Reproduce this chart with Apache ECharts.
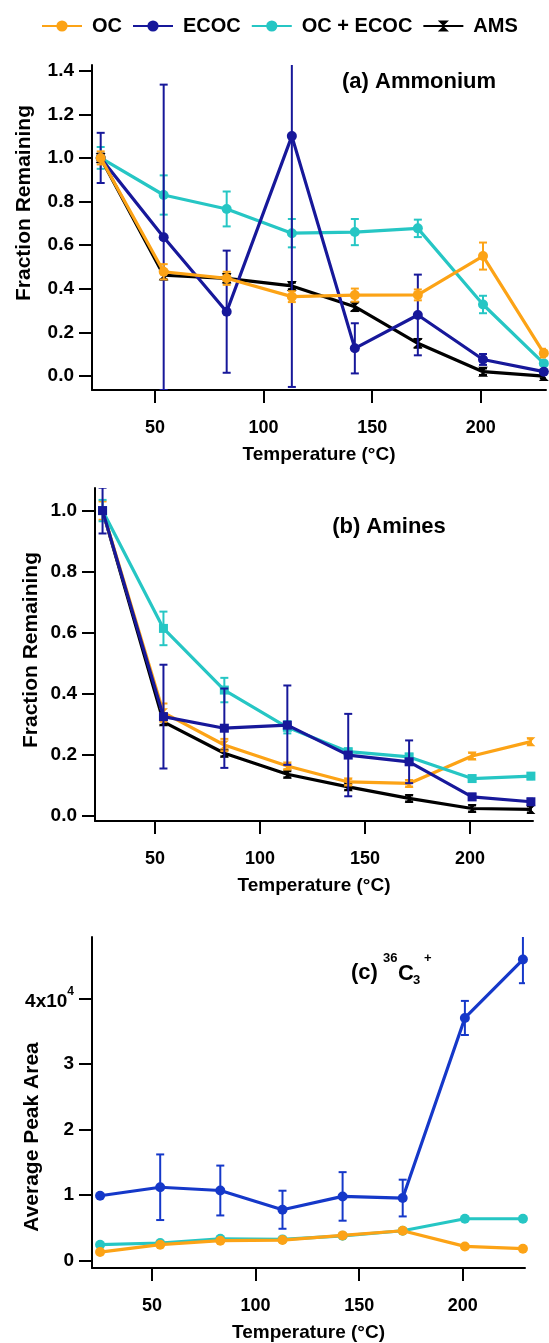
<!DOCTYPE html>
<html>
<head>
<meta charset="utf-8">
<script src="https://cdn.jsdelivr.net/npm/echarts@6/dist/echarts.min.js"></script>
<style>
html,body{margin:0;padding:0;background:#fff;}
#chart{width:549px;height:1343px;}
</style>
</head>
<body>
<div id="chart"></div>
<script>
// ---------- data ----------
const temps = [25, 54, 83, 113, 142, 171, 201, 229];
const xTicks = [50, 100, 150, 200];

// (a) Ammonium
const ocA      = [1.0, 0.478, 0.448, 0.364, 0.371, 0.372, 0.55, 0.105];
const ocAErr   = [0.03, 0.035, 0.03, 0.025, 0.03, 0.025, 0.062, 0.02];
const ecocA    = [1.0, 0.636, 0.295, 1.10, 0.127, 0.28, 0.076, 0.02];
const ecocAErr = [0.115, 0.70, 0.28, 1.15, 0.115, 0.185, 0.025, 0.01];
const sumA     = [1.0, 0.83, 0.766, 0.655, 0.66, 0.677, 0.328, 0.058];
const sumAErr  = [0.05, 0.09, 0.08, 0.065, 0.06, 0.04, 0.04, 0.01];
const amsA     = [1.0, 0.462, 0.448, 0.413, 0.318, 0.15, 0.02, 0.0];
const amsAErr  = [0.02, 0.02, 0.02, 0.015, 0.02, 0.02, 0.015, 0.01];
const yTicksA  = [0, 0.2, 0.4, 0.6, 0.8, 1.0, 1.2, 1.4];

// (b) Amines
const ocB      = [1.0, 0.338, 0.232, 0.163, 0.111, 0.106, 0.196, 0.243];
const ocBErr   = [0.03, 0.03, 0.02, 0.01, 0.01, 0.01, 0.01, 0.01];
const ecocB    = [1.0, 0.325, 0.287, 0.297, 0.199, 0.177, 0.062, 0.046];
const ecocBErr = [0.075, 0.17, 0.13, 0.13, 0.135, 0.07, 0.01, 0.01];
const sumB     = [1.0, 0.614, 0.412, 0.29, 0.21, 0.193, 0.122, 0.13];
const sumBErr  = [0.035, 0.055, 0.04, 0.02, 0.01, 0.01, 0.01, 0.01];
const amsB     = [1.0, 0.308, 0.205, 0.136, 0.095, 0.057, 0.024, 0.021];
const amsBErr  = [0.01, 0.01, 0.01, 0.01, 0.01, 0.01, 0.01, 0.01];
const yTicksB  = [0, 0.2, 0.4, 0.6, 0.8, 1.0];

// (c) 36C3+
const ecocC    = [9900, 11200, 10700, 7770, 9800, 9550, 37000, 45900];
const ecocCErr = [0, 5000, 3800, 2900, 3700, 2800, 2600, 3600];
const sumC     = [2440, 2700, 3350, 3250, 3800, 4570, 6400, 6400];
const ocC      = [1320, 2440, 3050, 3150, 3860, 4570, 2180, 1830];
const yTicksC  = [0, 10000, 20000, 30000, 40000];

// ---------- style ----------
const FONT = 'Liberation Sans, Arial, sans-serif';
const C_OC = '#FCA316';
const C_ECOC = '#17189A';
const C_SUM = '#26C6C4';
const C_AMS = '#000000';
const C_ECOC_C = '#1538C9';
const HOURGLASS = 'path://M0,0L10,0L5,5L10,10L0,10L5,5Z';

function pts(vals) { return temps.map((t, i) => [t, vals[i]]); }

function lineSeries(name, idx, vals, color, symbol, size, z) {
  return {
    type: 'line', name: name, xAxisIndex: idx, yAxisIndex: idx,
    data: pts(vals), symbol: symbol, symbolSize: size,
    showSymbol: true, animation: false, z: z,
    lineStyle: { color: color, width: 3.2 },
    itemStyle: { color: color },
    emphasis: { disabled: true }
  };
}

function errSeries(idx, vals, errs, color, z) {
  const data = [];
  temps.forEach((t, i) => { if (errs[i] > 0) data.push([t, vals[i] - errs[i], vals[i] + errs[i]]); });
  return {
    type: 'custom', name: '_err', xAxisIndex: idx, yAxisIndex: idx,
    data: data, clip: true, animation: false, z: z, silent: true,
    renderItem: function (params, api) {
      const x = api.value(0);
      const lo = api.coord([x, api.value(1)]);
      const hi = api.coord([x, api.value(2)]);
      const w = 4;
      const st = { stroke: color, lineWidth: 2 };
      return {
        type: 'group',
        children: [
          { type: 'line', shape: { x1: lo[0], y1: lo[1], x2: hi[0], y2: hi[1] }, style: st },
          { type: 'line', shape: { x1: lo[0] - w, y1: lo[1], x2: lo[0] + w, y2: lo[1] }, style: st },
          { type: 'line', shape: { x1: hi[0] - w, y1: hi[1], x2: hi[0] + w, y2: hi[1] }, style: st }
        ]
      };
    }
  };
}

const axisLineStyle = { show: true, onZero: false, lineStyle: { color: '#000', width: 2 } };
const tickStyle = { show: true, length: 13, lineStyle: { color: '#000', width: 2 } };

function xAxis(idx, min, max) {
  return {
    type: 'value', gridIndex: idx, min: min, max: max,
    axisLine: axisLineStyle,
    axisTick: Object.assign({ customValues: xTicks }, tickStyle),
    axisLabel: { customValues: xTicks, margin: 29, fontSize: 18, fontWeight: 'bold', color: '#000', fontFamily: FONT },
    splitLine: { show: false },
    name: 'Temperature (°C)', nameLocation: 'middle', nameGap: 55,
    nameTextStyle: { fontSize: 19, fontWeight: 'bold', color: '#000', fontFamily: FONT }
  };
}

function yAxis(idx, min, max, ticks, fmt) {
  return {
    type: 'value', gridIndex: idx, min: min, max: max,
    axisLine: axisLineStyle,
    axisTick: Object.assign({ customValues: ticks }, tickStyle),
    axisLabel: {
      customValues: ticks, margin: 18, fontSize: 19, fontWeight: 'bold', color: '#000', fontFamily: FONT,
      formatter: fmt,
      rich: {
        a: { fontSize: 19, fontWeight: 'bold', color: '#000', fontFamily: FONT, lineHeight: 26, verticalAlign: 'bottom' },
        s: { fontSize: 12, fontWeight: 'bold', color: '#000', fontFamily: FONT, lineHeight: 12, verticalAlign: 'top' }
      }
    },
    splitLine: { show: false }
  };
}

function txt(text, x, y, size, extra) {
  return Object.assign({
    type: 'text', x: x, y: y, silent: true,
    style: { text: text, fontSize: size, fontWeight: 'bold', fontFamily: FONT, fill: '#000',
             textAlign: 'center', textVerticalAlign: 'middle' }
  }, extra || {});
}
function ytitle(text, x, y) {
  const t = txt(text, x, y, 21);
  t.rotation = Math.PI / 2;
  return t;
}
function ltxt(text, x, y, size) {
  const t = txt(text, x, y, size);
  t.style.textAlign = 'left';
  return t;
}

const option = {
  backgroundColor: '#fff',
  animation: false,
  legend: {
    data: ['OC', 'ECOC', 'OC + ECOC', 'AMS'],
    left: 36, top: 11, itemWidth: 40, itemHeight: 14, itemGap: 10,
    selectedMode: false,
    textStyle: { fontSize: 20, fontWeight: 'bold', color: '#000', fontFamily: FONT, padding: [0, 0, 0, 5] }
  },
  grid: [
    { left: 92, top: 65, width: 454, height: 325 },
    { left: 95, top: 488, width: 438, height: 333 },
    { left: 92, top: 937, width: 433, height: 331 }
  ],
  xAxis: [xAxis(0, 21, 230), xAxis(1, 21.4, 230), xAxis(2, 21.1, 230)],
  yAxis: [
    yAxis(0, -0.064, 1.426, yTicksA, v => v.toFixed(1)),
    yAxis(1, -0.017, 1.074, yTicksB, v => v.toFixed(1)),
    yAxis(2, -1110, 49340, yTicksC, v => (v === 40000 ? '{a|4x10}{s|4}' : String(Math.round(v / 10000))))
  ],
  series: [
    // panel a
    errSeries(0, sumA, sumAErr, C_SUM, 2),
    lineSeries('OC + ECOC', 0, sumA, C_SUM, 'circle', 10, 2),
    errSeries(0, amsA, amsAErr, C_AMS, 3),
    lineSeries('AMS', 0, amsA, C_AMS, HOURGLASS, 10, 3),
    errSeries(0, ecocA, ecocAErr, C_ECOC, 4),
    lineSeries('ECOC', 0, ecocA, C_ECOC, 'circle', 10, 4),
    errSeries(0, ocA, ocAErr, C_OC, 5),
    lineSeries('OC', 0, ocA, C_OC, 'circle', 10, 5),
    // panel b
    errSeries(1, amsB, amsBErr, C_AMS, 2),
    lineSeries('AMS', 1, amsB, C_AMS, HOURGLASS, 9, 2),
    errSeries(1, ocB, ocBErr, C_OC, 3),
    lineSeries('OC', 1, ocB, C_OC, HOURGLASS, 9, 3),
    errSeries(1, sumB, sumBErr, C_SUM, 4),
    lineSeries('OC + ECOC', 1, sumB, C_SUM, 'rect', 9, 4),
    errSeries(1, ecocB, ecocBErr, C_ECOC, 5),
    lineSeries('ECOC', 1, ecocB, C_ECOC, 'rect', 9, 5),
    // panel c
    lineSeries('OC + ECOC', 2, sumC, C_SUM, 'circle', 10, 2),
    lineSeries('OC', 2, ocC, C_OC, 'circle', 10, 3),
    errSeries(2, ecocC, ecocCErr, C_ECOC_C, 4),
    lineSeries('ECOC', 2, ecocC, C_ECOC_C, 'circle', 10, 4)
  ],
  graphic: [
    txt('(a) Ammonium', 419, 82, 22),
    txt('(b) Amines', 389, 527, 22),
    ltxt('(c)', 351, 973, 22),
    ltxt('36', 383, 958, 13),
    ltxt('C', 398, 974, 22),
    ltxt('3', 413, 980, 13),
    ltxt('+', 424, 958, 13),
    ytitle('Fraction Remaining', 24, 203),
    ytitle('Fraction Remaining', 31, 650),
    ytitle('Average Peak Area', 32, 1137)
  ]
};

const chart = echarts.init(document.getElementById('chart'), null, { renderer: 'canvas' });
chart.setOption(option);
</script>
</body>
</html>
